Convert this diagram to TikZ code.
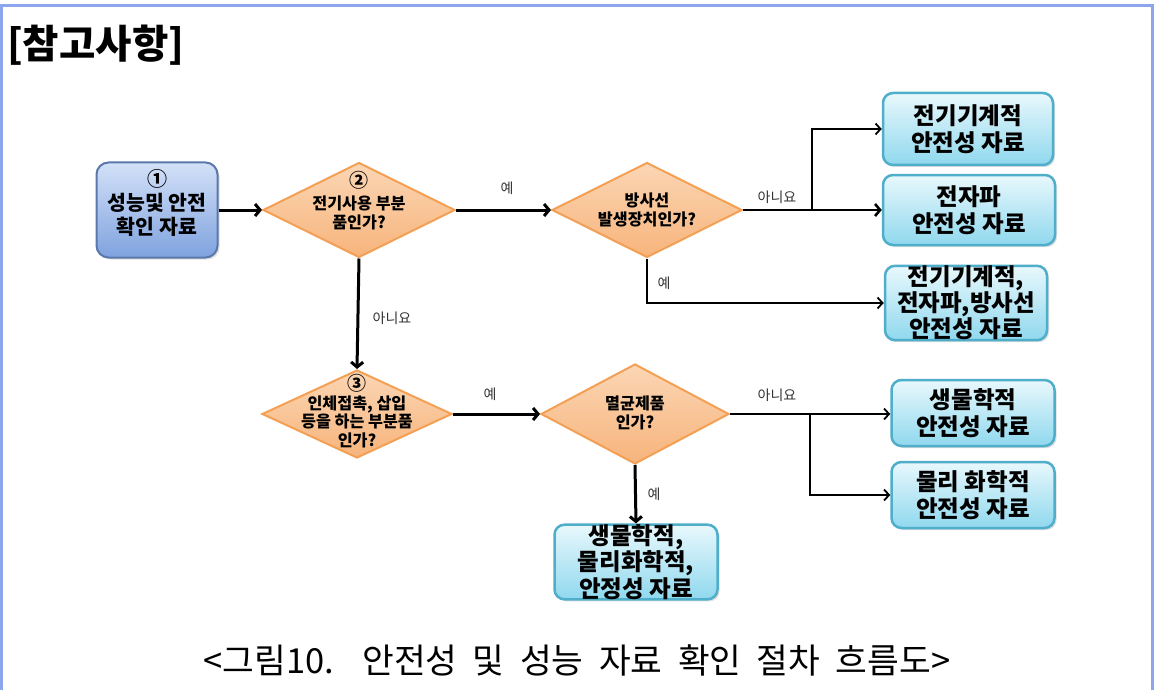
\documentclass[tikz,border=0pt]{standalone}
\usepackage{fontspec}
\setmainfont{Noto Sans CJK KR}
\newfontfamily\capfont{Noto Sans CJK KR}[WordSpace=2]
\usetikzlibrary{shapes.geometric,arrows.meta,shadows}
\definecolor{frameblue}{HTML}{8CA6EE}
\definecolor{bOne}{HTML}{5A78AC}
\definecolor{bTop}{HTML}{D3E1F8}
\definecolor{bBot}{HTML}{7FA2DE}
\definecolor{oBorder}{HTML}{F3A055}
\definecolor{oTop}{HTML}{FBD6B4}
\definecolor{oBot}{HTML}{F7B47C}
\definecolor{cBorder}{HTML}{4FAEC9}
\definecolor{cTop}{HTML}{E8F8FC}
\definecolor{cBot}{HTML}{90D8EE}
\begin{document}
\begin{tikzpicture}[x=1pt,y=-1pt,
  bluebox/.style={draw=bOne, line width=2pt, rounded corners=12pt, top color=bTop, bottom color=bBot,
    minimum width=121pt, minimum height=95pt, inner sep=0pt,
    drop shadow={opacity=0.25, shadow xshift=2pt, shadow yshift=-2pt}},
  cyanbox/.style={draw=cBorder, line width=2.5pt, rounded corners=10pt, top color=cTop, bottom color=cBot,
    inner sep=0pt, align=center, font=\fontsize{23.5}{27}\selectfont\bfseries,
    drop shadow={opacity=0.25, shadow xshift=2pt, shadow yshift=-2pt}},
  decision/.style={diamond, draw=oBorder, line width=2pt, top color=oTop, bottom color=oBot, inner sep=0pt},
  dtext/.style={align=center, inner sep=0pt, font=\fontsize{16.2}{19}\selectfont\bfseries},
  btext/.style={align=center, inner sep=0pt, font=\fontsize{20.5}{24}\selectfont\bfseries},
  lbl/.style={inner sep=0pt, text=black!80, font=\fontsize{14}{16}\selectfont},
  mainarrow/.style={line width=3pt, -{Straight Barb[length=5pt,width=12pt]}},
  brancharrow/.style={line width=1.8pt, -{Straight Barb[length=5pt,width=11pt]}}
]
\useasboundingbox (0,0) rectangle (1154,690);
\fill[white] (0,0) rectangle (1154,690);
% frame
\draw[frameblue, line width=3.5pt] (1,690) -- (1,5.5) -- (1152.5,5.5) -- (1152.5,690);

% title
\node[anchor=west, inner sep=0pt, font=\fontsize{39.5}{44}\selectfont\bfseries] (title) at (7,45) {[참고사항]};

% nodes
\node[bluebox] (b1) at (157,210) {};
\node[btext] (b1t) at (157,203) {{\fontsize{20}{21}\selectfont ①}\\성능및 안전\\확인 자료};

\node[decision, minimum width=192pt, minimum height=95pt] (d2) at (359,210) {};
\node[dtext] (d2t) at (359,201) {{\fontsize{19}{20}\selectfont ②}\\[3pt]전기사용 부분\\품인가?};

\node[decision, minimum width=190pt, minimum height=95pt] (d4) at (647,210) {};
\node[dtext] (d4t) at (647,210) {방사선\\발생장치인가?};

\node[cyanbox, minimum width=170pt, minimum height=72pt] (bA) at (968,129) {전기기계적\\안전성 자료};
\node[cyanbox, minimum width=172pt, minimum height=70pt] (bB) at (969,210) {전자파\\안전성 자료};
\node[cyanbox, minimum width=162pt, minimum height=70pt, font=\fontsize{23.5}{24.5}\selectfont\bfseries] (bC) at (966,303) {전기기계적,\\전자파,방사선\\안전성 자료};

\node[decision, minimum width=190pt, minimum height=88pt] (d3) at (357,414) {};
\node[dtext, font=\fontsize{16.2}{18.5}\selectfont\bfseries] (d3t) at (357,411) {{\fontsize{19}{19}\selectfont ③}\\인체접촉, 삽입\\등을 하는 부분품\\인가?};

\node[decision, minimum width=188pt, minimum height=100pt] (d5) at (635,414) {};
\node[dtext] (d5t) at (635,413) {멸균제품\\인가?};

\node[cyanbox, minimum width=163pt, minimum height=66pt] (bD) at (973,413) {생물학적\\안전성 자료};
\node[cyanbox, minimum width=163pt, minimum height=66pt] (bE) at (973,495) {물리 화학적\\안전성 자료};
\node[cyanbox, minimum width=163pt, minimum height=70pt, font=\fontsize{23.5}{24}\selectfont\bfseries] (bF) at (636,562) {생물학적,\\물리화학적,\\안정성 자료};

% connectors
\draw[mainarrow] (b1.east) -- (d2.west);
\draw[mainarrow] (d2.east) -- (d4.west);
\draw[mainarrow] (d2.south) -- (d3.north);
\draw[mainarrow] (d3.east) -- (d5.west |- d3.east);
\draw[mainarrow] (d5.south) -- (bF.north);

\coordinate (j1) at (812,210);
\draw[line width=2.6pt, -{Straight Barb[length=5pt,width=12pt]}] (d4.east) -- (bB.west);
\draw[brancharrow] (j1) |- (bA.west);
\draw[brancharrow] (d4.south) |- (bC.west);

\coordinate (j2) at (810,414);
\draw[brancharrow] (d5.east) -- (bD.west |- d5.east);
\draw[brancharrow] (j2) |- (bE.west);

% labels
\node[lbl] (l1) at (507,188) {예};
\node[lbl] (l2) at (777,197) {아니요};
\node[lbl] (l3) at (664,283) {예};
\node[lbl] (l4) at (392,318) {아니요};
\node[lbl] (l5) at (490,394) {예};
\node[lbl] (l6) at (777,395) {아니요};
\node[lbl] (l7) at (654,494) {예};

% caption
\node[inner sep=0pt, font=\fontsize{34.5}{38}\selectfont\capfont] (cap) at (577,660) {<그림10.\hspace{10pt} 안전성 및 성능 자료 확인 절차 흐름도>};
\end{tikzpicture}
\end{document}
